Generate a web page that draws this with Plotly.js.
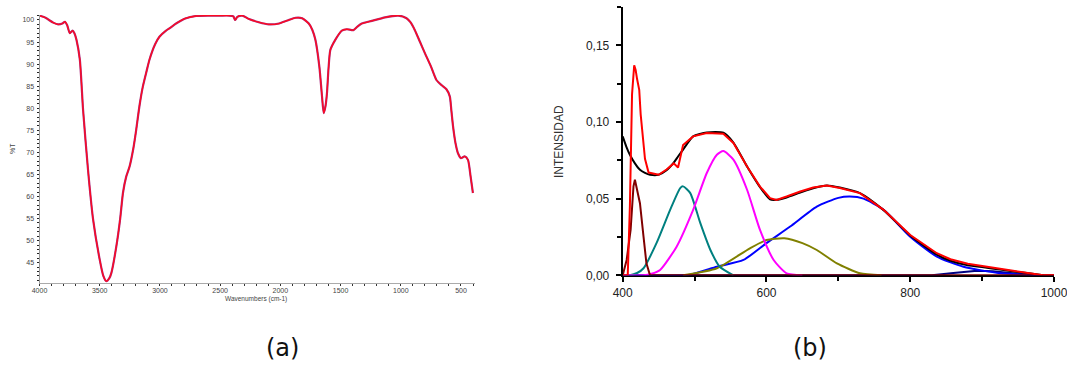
<!DOCTYPE html>
<html>
<head>
<meta charset="utf-8">
<script src="https://cdn.plot.ly/plotly-3.0.1.min.js"></script>
<style>html,body{margin:0;padding:0;background:#fff;}#chart{width:1067px;height:365px;}</style>
</head>
<body>
<div id="chart"></div>
<script>
// ---------- (a) IR spectrum ----------
const irWavenumber = [4000,3950,3886,3845,3810,3789,3770,3748,3726,3710,3693,3665,3638,3597,3555,3500,3470,3445,3420,3403,3362,3330,3307,3280,3252,3220,3197,3170,3142,3110,3087,3040,3004,2949,2921,2866,2783,2700,2600,2500,2426,2390,2376,2357,2316,2260,2180,2095,2012,1940,1874,1820,1764,1735,1709,1676,1655,1640,1625,1613,1600,1585,1544,1489,1448,1393,1360,1324,1241,1130,1021,952,920,883,840,800,750,704,660,621,593,580,566,545,525,500,469,442,420,401];
const irTransmittance = [101.0,100.5,99.4,99.0,99.2,99.6,98.8,97.0,97.6,97.0,95.5,91.0,79.6,66.0,54.8,45.7,42.0,40.8,41.5,42.7,48.7,55.0,60.8,64.5,66.8,71.0,75.1,80.5,84.9,88.5,91.0,94.5,96.2,97.6,98.1,99.2,100.4,100.9,101.0,101.0,101.0,100.8,100.0,100.7,101.0,100.2,99.5,99.0,99.2,99.9,100.5,100.4,99.2,97.8,95.5,89.4,83.0,78.9,80.5,83.4,89.0,93.2,95.5,97.6,97.9,97.7,98.5,99.2,99.8,100.6,101.0,100.4,99.5,97.7,95.0,92.5,89.5,86.4,85.2,84.3,82.7,79.5,75.9,72.0,69.8,68.7,69.1,68.3,64.5,60.8];
const irXTicks = [4000,3500,3000,2500,2000,1500,1000,500];
const irYTicks = [45,50,55,60,65,70,75,80,85,90,95,100];

// ---------- (b) deconvolution ----------
const redNm  = [400,407,410,413,416,418,420,423,425,428,431,436,450,461,471,477,484,498,517,540,554,573,591,605,614,628,647,665,684,702,730,763,800,837,856,880,902,925,949,970,985,1000];
const redVal = [0,0,0.045,0.118,0.137,0.134,0.128,0.121,0.105,0.088,0.076,0.067,0.0656,0.069,0.073,0.0703,0.085,0.0906,0.0928,0.0923,0.0863,0.071,0.0579,0.0503,0.0492,0.0514,0.0547,0.0573,0.0586,0.0569,0.0536,0.0427,0.0263,0.0144,0.0105,0.0075,0.006,0.0045,0.0028,0.0012,0,0];
const blackNm  = [400,405,410,417,424,431,438,450,461,471,477,484,498,517,540,554,573,591,605,614,628,647,665,684,702,730,763,800,837,856,880,902,925,949,970,985];
const blackVal = [0.0906,0.084,0.0786,0.073,0.0688,0.0668,0.0656,0.0656,0.0685,0.0735,0.0775,0.082,0.0906,0.0932,0.093,0.0866,0.071,0.0575,0.0495,0.0492,0.0508,0.054,0.0568,0.0586,0.0572,0.0536,0.0425,0.026,0.0135,0.0095,0.0065,0.0052,0.0038,0.0022,0.001,0];
const magentaNm  = [400,429,440,452,475,498,517,531,540,554,573,591,610,628,650];
const magentaVal = [0,0,0.001,0.0035,0.0187,0.0427,0.0667,0.0786,0.081,0.0754,0.0558,0.0296,0.010,0.0013,0];
const tealNm  = [400,410,420,429,447,466,480,484,494,508,522,535,554];
const tealVal = [0,0,0.0015,0.0046,0.021,0.0427,0.0569,0.058,0.0536,0.034,0.0165,0.0056,0];
const blueNm  = [400,489,531,568,600,633,670,700,716,735,763,800,837,874,925,981];
const blueVal = [0,0,0.0056,0.010,0.021,0.0318,0.0448,0.0505,0.0514,0.050,0.0427,0.0252,0.0122,0.0056,0.0013,0];
const oliveNm  = [484,531,577,600,625,650,670,698,730,760];
const oliveVal = [0,0.0046,0.0176,0.023,0.0242,0.021,0.0165,0.0078,0.0013,0];
const maroonNm  = [400,405.5,411,415,417,420,424,429,433,438,1000];
const maroonVal = [0,0.010,0.0296,0.058,0.0623,0.0557,0.047,0.025,0.0078,0,0];
const navyNm  = [400,830,860,893,915,945,975,1000];
const navyVal = [0,0,0.0015,0.003,0.0026,0.0012,0,0];
const bYTicks = [0,0.05,0.10,0.15];
const bYTickText = ['0,00','0,05','0,10','0,15'];
const bXTicks = [400,600,800,1000];

const W = 1067, H = 365;
const px = v => v / W;
const py = v => 1 - v / H;

function ln(x, y, color, width, xa, ya, smooth) {
  const line = {color: color, width: width};
  if (smooth) { line.shape = 'spline'; line.smoothing = smooth; }
  return {x: x, y: y, type: 'scatter', mode: 'lines', xaxis: xa, yaxis: ya,
          line: line, hoverinfo: 'skip', showlegend: false};
}

const traces = [
  ln(irWavenumber, irTransmittance, '#a8307e', 2.2, 'x', 'y', 0.6),
  ln(irWavenumber, irTransmittance, '#ff0820', 1.3, 'x', 'y', 0.6),
  ln(navyNm, navyVal, '#000080', 2, 'x2', 'y2'),
  ln(blueNm, blueVal, '#0000ff', 2, 'x2', 'y2', 0.6),
  ln(oliveNm, oliveVal, '#808000', 2, 'x2', 'y2', 0.6),
  ln(tealNm, tealVal, '#008080', 2, 'x2', 'y2', 0.6),
  ln(magentaNm, magentaVal, '#ff00ff', 2, 'x2', 'y2', 0.6),
  ln(maroonNm, maroonVal, '#800000', 2, 'x2', 'y2'),
  ln(blackNm, blackVal, '#000000', 2, 'x2', 'y2', 0.6),
  ln(redNm, redVal, '#ff0000', 2, 'x2', 'y2')
];

const smallFont = {family: 'Liberation Sans, Arial, sans-serif', size: 7, color: '#444'};
const bFont = {family: 'Liberation Sans, Arial, sans-serif', size: 12, color: '#222'};

function note(text, x, y, font, angle) {
  return {text: text, x: px(x), y: py(y), xref: 'paper', yref: 'paper', showarrow: false,
          xanchor: 'center', yanchor: 'middle', textangle: angle || 0, font: font};
}

const layout = {
  width: W, height: H,
  margin: {l: 0, r: 0, t: 0, b: 0},
  paper_bgcolor: '#fff', plot_bgcolor: 'rgba(0,0,0,0)',
  showlegend: false,
  xaxis: {
    domain: [px(39.5), px(475)], range: [4000, 383.7], anchor: 'y',
    showgrid: false, zeroline: false, showline: true, linecolor: '#aaa', linewidth: 1,
    tickmode: 'array', tickvals: irXTicks, ticks: 'outside', ticklen: 2, tickcolor: '#333', tickwidth: 1,
    minor: {dtick: 100, ticks: 'outside', ticklen: 2, tickcolor: '#333', tickwidth: 1},
    tickfont: smallFont, ticklabelstandoff: -1
  },
  yaxis: {
    domain: [py(283), py(15)], range: [40.4, 101.13], anchor: 'x',
    showgrid: false, zeroline: false, showline: true, linecolor: '#999', linewidth: 1,
    tickmode: 'array', tickvals: irYTicks, ticks: 'outside', ticklen: 2, tickcolor: '#222', tickwidth: 1,
    minor: {dtick: 1, ticks: 'outside', ticklen: 2, tickcolor: '#222', tickwidth: 1},
    tickfont: smallFont, ticklabelstandoff: 1
  },
  xaxis2: {
    domain: [px(622.7), px(1054)], range: [400, 1000], anchor: 'y2',
    showgrid: false, zeroline: false, showline: true, linecolor: '#000', linewidth: 2,
    layer: 'below traces',
    tickmode: 'array', tickvals: bXTicks, ticks: 'outside', ticklen: 5, tickcolor: '#000', tickwidth: 2,
    minor: {dtick: 100, ticks: 'outside', ticklen: 4, tickcolor: '#000', tickwidth: 2},
    tickfont: bFont, ticklabelstandoff: 0, ticklabeloverflow: 'allow'
  },
  yaxis2: {
    domain: [py(275.3), py(7)], range: [0, 0.175], anchor: 'x2',
    showgrid: false, zeroline: false, showline: true, linecolor: '#000', linewidth: 2,
    tickmode: 'array', tickvals: bYTicks, ticktext: bYTickText, ticks: 'outside', ticklen: 5, tickcolor: '#000', tickwidth: 2,
    minor: {dtick: 0.025, ticks: 'outside', ticklen: 4, tickcolor: '#000', tickwidth: 2},
    tickfont: bFont, ticklabelstandoff: 4
  },
  annotations: [
    note('Wavenumbers (cm-1)', 256, 299, {family: 'Liberation Sans, Arial, sans-serif', size: 6.5, color: '#444'}),
    note('%T', 12, 149, {family: 'Liberation Sans, Arial, sans-serif', size: 7, color: '#444'}, -90),
    note('INTENSIDAD', 559, 142, {family: 'Liberation Sans, Arial, sans-serif', size: 12, color: '#333'}, -90),
    note('(a)', 282, 348, {family: 'DejaVu Sans, sans-serif', size: 24, color: '#111'}),
    note('(b)', 810, 348, {family: 'DejaVu Sans, sans-serif', size: 24, color: '#111'})
  ]
};

Plotly.newPlot('chart', traces, layout, {displayModeBar: false, staticPlot: true});
</script>
</body>
</html>
